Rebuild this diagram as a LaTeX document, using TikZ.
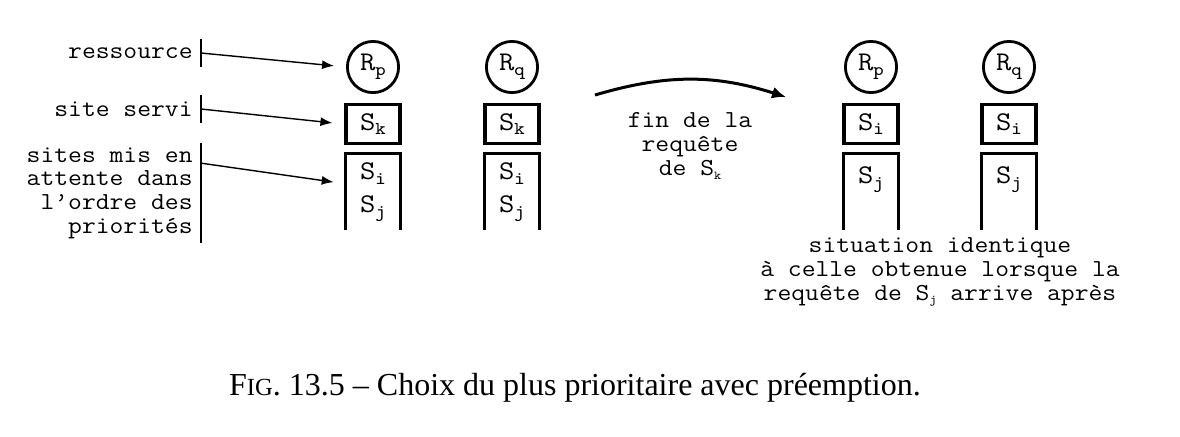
\documentclass[tikz,border=0pt]{standalone}
\usepackage{fontspec}
\setmainfont{Liberation Serif}
\setmonofont[FakeStretch=1.1]{Latin Modern Mono}
\usetikzlibrary{arrows.meta, positioning}

% indices en chasse fixe
\newcommand{\ind}[1]{\raisebox{-0.4ex}{\fontsize{9}{9}\selectfont #1}}
\newcommand{\tind}[1]{\raisebox{-0.3ex}{\fontsize{6}{6}\selectfont #1}}

\begin{document}
\begin{tikzpicture}[
			x=0.5pt, y=-0.5pt,
			txt/.style={font=\fontsize{12.2}{12}\selectfont\ttfamily, align=center, inner sep=0pt},
			lbl/.style={font=\fontsize{12.2}{11.8}\selectfont\ttfamily, align=right, anchor=east, inner xsep=4pt, inner ysep=2pt},
			res/.style={circle, draw, line width=1.4pt, minimum size=25.6pt, inner sep=0pt, font=\fontsize{13.5}{13.5}\selectfont\ttfamily},
			served/.style={rectangle, draw, line width=1.6pt, minimum width=27pt, minimum height=19.6pt, inner sep=0pt, font=\fontsize{13.5}{13.5}\selectfont\ttfamily},
			queue/.style={rectangle, minimum width=27pt, minimum height=38pt, inner sep=0pt, align=center, font=\fontsize{13.5}{16.5}\selectfont\ttfamily},
			walls/.style={line width=1.6pt},
			bar/.style={line width=0.8pt},
			ptr/.style={line width=0.7pt, -{Latex[length=6pt,width=4.5pt]}, shorten >=6pt},
			bigarrow/.style={line width=1.5pt, -{Latex[length=7pt,width=6pt]}}
		]
		\useasboundingbox (0,0) rectangle (1180,436);

		% --- LEGENDE A GAUCHE ---
		\node (ress) [lbl] at (201,53) {ressource};
		\node (servi) [lbl] at (201,109) {site servi};
		\node (attente) [lbl] at (201,193) {sites mis en\\attente dans\\l’ordre des\\priorités};

		% --- AVANT ---
		\node (rp) [res] at (373,67) {R\ind{p}};
		\node (bp) [served, below=4.5pt of rp] {S\ind{k}};
		\node (qp) [queue, below=4pt of bp] {S\ind{i}\\S\ind{j}};

		\node (rq) [res] at (512,67) {R\ind{q}};
		\node (bq) [served, below=4.5pt of rq] {S\ind{k}};
		\node (qq) [queue, below=4pt of bq] {S\ind{i}\\S\ind{j}};

		% --- TRANSITION ---
		\coordinate (from) at (595,95);
		\coordinate (to) at (786,97);
		\node (fin) [txt] at (690,146) {fin de la\\requête\\de S\tind{k}};

		% --- APRES ---
		\node (rp2) [res] at (871,67) {R\ind{p}};
		\node (bp2) [served, below=4.5pt of rp2] {S\ind{i}};
		\node (qp2) [queue, below=4pt of bp2] {S\ind{j}\\\mbox{}};

		\node (rq2) [res] at (1009,67) {R\ind{q}};
		\node (bq2) [served, below=4.5pt of rq2] {S\ind{i}};
		\node (qq2) [queue, below=4pt of bq2] {S\ind{j}\\\mbox{}};

		\node (note) [txt] at (940,272) {situation identique\\à celle obtenue lorsque la\\requête de S\tind{j} arrive après};

		% --- LEGENDE ---
		\node (caption) [font=\fontsize{16}{16}\selectfont] at (575,388) {F{\fontsize{12.3}{12.3}\selectfont IG}. 13.5 – Choix du plus prioritaire avec préemption.};

		% --- FILES D'ATTENTE ---
		\foreach \q in {qp, qq, qp2, qq2} {
			\draw [walls] (\q.south west) -- (\q.north west) -- (\q.north east) -- (\q.south east);
		}

		% --- LIENS ---
		\draw [bar] ([yshift=7pt]ress.east) -- ([yshift=-7pt]ress.east);
		\draw [bar] ([yshift=7pt]servi.east) -- ([yshift=-7pt]servi.east);
		\draw [bar] (attente.north east) -- (attente.south east);

		\draw [ptr] (ress.east) -- (rp.west);
		\draw [ptr] (servi.east) -- (bp.west);
		\draw [ptr] ([yshift=-10pt]attente.north east) -- ([yshift=4pt]qp.west);

		\draw [bigarrow] (from) to[bend left=17] (to);
	\end{tikzpicture}
\end{document}
